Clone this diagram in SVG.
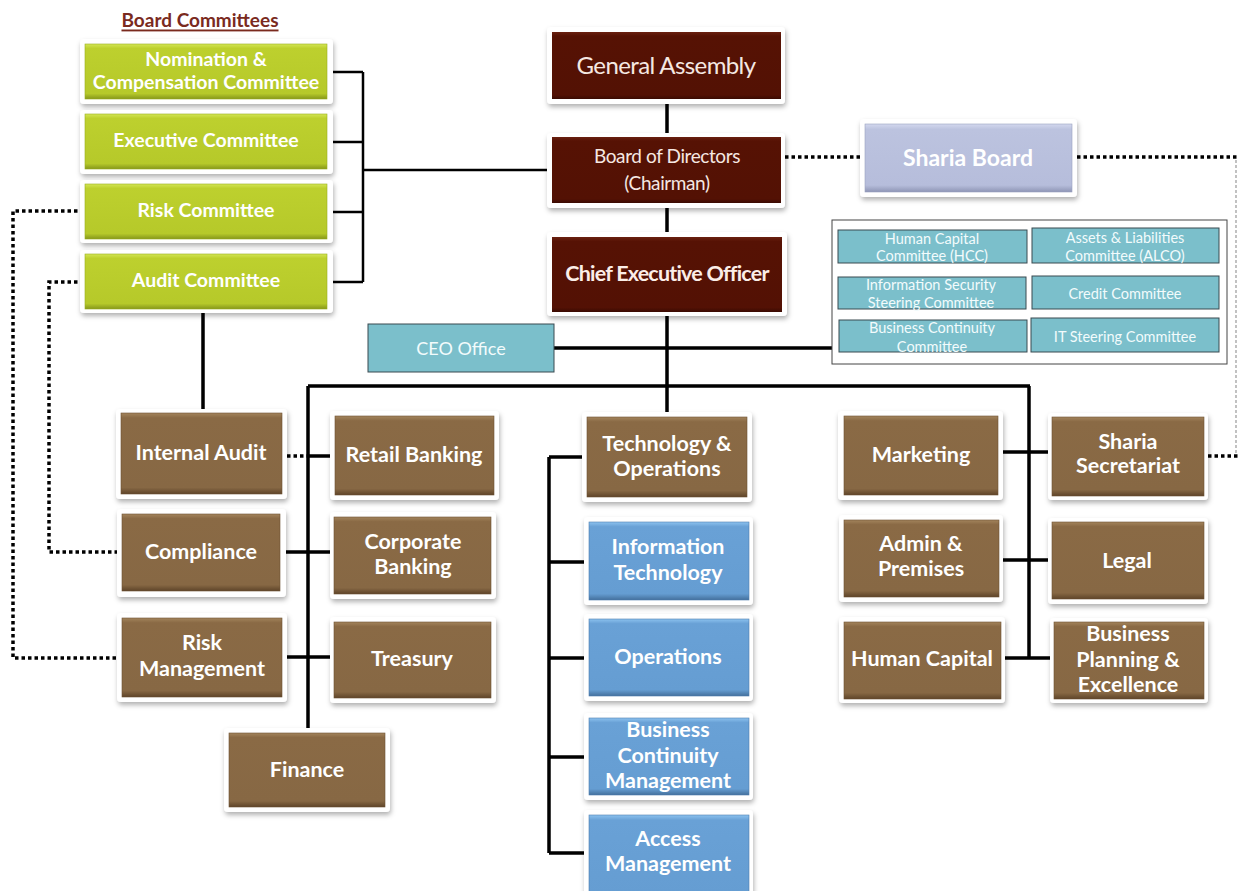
<svg xmlns="http://www.w3.org/2000/svg" width="1239" height="891" viewBox="0 0 1239 891">
<defs>
<filter id="sh" x="-10%" y="-10%" width="125%" height="130%"><feDropShadow dx="1" dy="3" stdDeviation="2.5" flood-color="#000" flood-opacity="0.3"/></filter>
<linearGradient id="gBrown" x1="0" y1="0" x2="0" y2="1"><stop offset="0" stop-color="#a3845c"/><stop offset="0.06" stop-color="#8a6a45"/><stop offset="0.92" stop-color="#876844"/><stop offset="1" stop-color="#5e4429"/></linearGradient>
<linearGradient id="gGreen" x1="0" y1="0" x2="0" y2="1"><stop offset="0" stop-color="#d3e655"/><stop offset="0.08" stop-color="#bdd02e"/><stop offset="0.9" stop-color="#b6c92a"/><stop offset="1" stop-color="#86971a"/></linearGradient>
<linearGradient id="gBlue" x1="0" y1="0" x2="0" y2="1"><stop offset="0" stop-color="#8cc2ef"/><stop offset="0.06" stop-color="#69a1d6"/><stop offset="0.92" stop-color="#659dd2"/><stop offset="1" stop-color="#44709c"/></linearGradient>
<linearGradient id="gMaroon" x1="0" y1="0" x2="0" y2="1"><stop offset="0" stop-color="#6a2010"/><stop offset="0.06" stop-color="#561204"/><stop offset="0.94" stop-color="#531104"/><stop offset="1" stop-color="#3a0a02"/></linearGradient>
<linearGradient id="gLav" x1="0" y1="0" x2="0" y2="1"><stop offset="0" stop-color="#d3d8ee"/><stop offset="0.08" stop-color="#bcc3df"/><stop offset="0.9" stop-color="#b6bddb"/><stop offset="1" stop-color="#8e95b5"/></linearGradient>
<style>
.o{fill:#fff;filter:url(#sh)}
.br{fill:url(#gBrown);stroke:#6d5232;stroke-width:0.6}
.gr{fill:url(#gGreen);stroke:#9aad20;stroke-width:0.6}
.bl{fill:url(#gBlue);stroke:#4d7eae;stroke-width:0.6}
.mr{fill:url(#gMaroon)}
.lv{fill:url(#gLav);stroke:#9aa1bf;stroke-width:0.6}
.tl{fill:#7bbfcb;stroke:#3a4a50;stroke-width:1}
text{font-family:Lato,"Open Sans","Liberation Sans",sans-serif;text-anchor:middle;dominant-baseline:central}
.t{fill:#fff;font-weight:bold;font-size:21.5px}
.tg{fill:#fff;font-weight:bold;font-size:19.5px}
.tm{fill:#f5e8e2;font-size:19px}
.ts{fill:#f2fbfc;font-size:14.5px}
.ln{stroke:#000;stroke-width:3.5;fill:none}
.lt{stroke:#000;stroke-width:2.5;fill:none}
.dt{stroke:#000;stroke-width:3.5;fill:none;stroke-dasharray:3.5 3}
</style>
</defs>
<rect width="1239" height="891" fill="#fff"/>

<g id="connectors">
<path class="lt" d="M327 72H363M327 142H363M327 212H363M327 282H363M363 72V282M363 170H550"/>
<path class="ln" d="M667 104V136M667 207V234M667 316V412M554 348H832M308 386H1030M308 386V730M1029 386V658"/>
<path class="ln" d="M203 313V410M308 456H334M286 552H334M287 657H334"/>
<path class="ln" d="M549 457V853M549 457H587M549 562H589M549 658H589M549 757H589M549 853H589"/>
<path class="ln" d="M1003 452H1052M1003 560H1052M1005 658H1052"/>
<path class="dt" d="M287 456H308"/>
<path class="dt" d="M785 157H860M1077 157H1237M1208 456H1239"/>
<path class="dt" d="M84 211H13V658H118M84 282H49V552H118"/>
<path d="M1236 160V454" stroke="#999" stroke-width="1.2" stroke-dasharray="3 2" fill="none"/>
</g>

<g id="title"><text x="200" y="19" style="font-weight:bold;font-size:19px;fill:#7a2a1e;text-decoration:underline">Board Committees</text></g>

<g id="nomination"><rect class="o" x="80" y="39" width="253" height="65" rx="4"/><rect class="gr" x="85" y="44" width="242" height="55"/><text class="tg" x="206" y="58">Nomination &amp;</text><text class="tg" x="206" y="81">Compensation Committee</text></g>
<g id="executive"><rect class="o" x="80" y="110" width="253" height="64" rx="4"/><rect class="gr" x="85" y="114" width="242" height="55"/><text class="tg" x="206" y="139">Executive Committee</text></g>
<g id="riskcom"><rect class="o" x="80" y="180" width="253" height="63" rx="4"/><rect class="gr" x="85" y="184" width="242" height="55"/><text class="tg" x="206" y="209">Risk Committee</text></g>
<g id="auditcom"><rect class="o" x="80" y="250" width="253" height="63" rx="4"/><rect class="gr" x="85" y="254" width="242" height="55"/><text class="tg" x="206" y="279">Audit Committee</text></g>

<g id="ga"><rect class="o" x="547" y="27" width="238" height="77" rx="4"/><rect class="mr" x="552" y="32" width="229" height="67"/><text class="tm" x="666" y="64" style="font-size:24px;letter-spacing:-0.6px">General Assembly</text></g>
<g id="bod"><rect class="o" x="547" y="133" width="238" height="75" rx="4"/><rect class="mr" x="552" y="137" width="229" height="66"/><text class="tm" x="667" y="155" style="letter-spacing:-0.4px">Board of Directors</text><text class="tm" x="667" y="182" style="letter-spacing:-0.4px">(Chairman)</text></g>
<g id="ceo"><rect class="o" x="547" y="232" width="240" height="84" rx="4"/><rect class="mr" x="552" y="237" width="230" height="75"/><text class="t" x="667" y="273" style="fill:#fbeee8;font-size:21.5px;letter-spacing:-0.8px">Chief Executive Officer</text></g>

<g id="sharia-board"><rect class="o" x="860" y="119" width="217" height="78" rx="4"/><rect class="lv" x="865" y="124" width="207" height="68"/><text class="t" x="968" y="157" style="font-size:23px">Sharia Board</text></g>

<g id="committees">
<rect x="832" y="220" width="395" height="144" fill="#fff" stroke="#444" stroke-width="1"/>
<rect class="tl" x="838" y="230" width="189" height="33"/><text class="ts" x="932" y="238">Human Capital</text><text class="ts" x="932" y="255">Committee (HCC)</text>
<rect class="tl" x="1032" y="228" width="187" height="35"/><text class="ts" x="1125" y="237">Assets &amp; Liabilities</text><text class="ts" x="1125" y="255">Committee (ALCO)</text>
<rect class="tl" x="838" y="277" width="188" height="32"/><text class="ts" x="931" y="284">Information Security</text><text class="ts" x="931" y="302">Steering Committee</text>
<rect class="tl" x="1032" y="276" width="187" height="33"/><text class="ts" x="1125" y="293">Credit Committee</text>
<rect class="tl" x="839" y="320" width="188" height="32"/><text class="ts" x="932" y="327">Business Continuity</text><text class="ts" x="932" y="346">Committee</text>
<rect class="tl" x="1031" y="318" width="188" height="34"/><text class="ts" x="1125" y="336">IT Steering Committee</text>
</g>

<g id="ceo-office"><rect class="tl" x="368" y="324" width="186" height="48"/><text class="ts" x="461" y="348" style="font-size:18px">CEO Office</text></g>

<g id="internal-audit"><rect class="o" x="116" y="409" width="171" height="90" rx="4"/><rect class="br" x="121" y="413" width="161" height="81"/><text class="t" x="201" y="452">Internal Audit</text></g>
<g id="retail"><rect class="o" x="330" y="411" width="169" height="89" rx="4"/><rect class="br" x="335" y="416" width="159" height="79"/><text class="t" x="414" y="454">Retail Banking</text></g>
<g id="compliance"><rect class="o" x="117" y="509" width="169" height="88" rx="4"/><rect class="br" x="122" y="514" width="158" height="77"/><text class="t" x="201" y="551">Compliance</text></g>
<g id="corporate"><rect class="o" x="330" y="512" width="166" height="87" rx="4"/><rect class="br" x="334" y="517" width="157" height="77"/><text class="t" x="413" y="541">Corporate</text><text class="t" x="413" y="566">Banking</text></g>
<g id="risk-mgmt"><rect class="o" x="117" y="613" width="170" height="89" rx="4"/><rect class="br" x="122" y="618" width="160" height="79"/><text class="t" x="202" y="642">Risk</text><text class="t" x="202" y="668">Management</text></g>
<g id="treasury"><rect class="o" x="330" y="617" width="166" height="86" rx="4"/><rect class="br" x="334" y="622" width="157" height="76"/><text class="t" x="412" y="658">Treasury</text></g>
<g id="finance"><rect class="o" x="224" y="728" width="166" height="84" rx="4"/><rect class="br" x="229" y="733" width="156" height="74"/><text class="t" x="307" y="769">Finance</text></g>

<g id="tech-ops"><rect class="o" x="582" y="412" width="170" height="90" rx="4"/><rect class="br" x="587" y="417" width="160" height="80"/><text class="t" x="667" y="443">Technology &amp;</text><text class="t" x="667" y="468">Operations</text></g>
<g id="it"><rect class="o" x="584" y="517" width="169" height="88" rx="4"/><rect class="bl" x="589" y="522" width="160" height="78"/><text class="t" x="668" y="546">Information</text><text class="t" x="668" y="572">Technology</text></g>
<g id="operations"><rect class="o" x="584" y="614" width="169" height="87" rx="4"/><rect class="bl" x="589" y="619" width="160" height="77"/><text class="t" x="668" y="656">Operations</text></g>
<g id="bcm"><rect class="o" x="584" y="713" width="169" height="87" rx="4"/><rect class="bl" x="589" y="718" width="160" height="77"/><text class="t" x="668" y="729">Business</text><text class="t" x="668" y="755">Continuity</text><text class="t" x="668" y="780">Management</text></g>
<g id="access"><rect class="o" x="584" y="810" width="169" height="90" rx="4"/><rect class="bl" x="589" y="815" width="160" height="85"/><text class="t" x="668" y="838">Access</text><text class="t" x="668" y="863">Management</text></g>

<g id="marketing"><rect class="o" x="838" y="411" width="165" height="89" rx="4"/><rect class="br" x="844" y="416" width="154" height="79"/><text class="t" x="921" y="454">Marketing</text></g>
<g id="sharia-sec"><rect class="o" x="1048" y="413" width="160" height="87" rx="4"/><rect class="br" x="1052" y="417" width="152" height="79"/><text class="t" x="1128" y="441">Sharia</text><text class="t" x="1128" y="465">Secretariat</text></g>
<g id="admin"><rect class="o" x="839" y="515" width="164" height="87" rx="4"/><rect class="br" x="844" y="520" width="155" height="77"/><text class="t" x="921" y="543">Admin &amp;</text><text class="t" x="921" y="568">Premises</text></g>
<g id="legal"><rect class="o" x="1048" y="518" width="160" height="86" rx="4"/><rect class="br" x="1052" y="522" width="152" height="77"/><text class="t" x="1127" y="560">Legal</text></g>
<g id="human-capital"><rect class="o" x="839" y="617" width="166" height="86" rx="4"/><rect class="br" x="844" y="622" width="157" height="77"/><text class="t" x="922" y="658">Human Capital</text></g>
<g id="bpe"><rect class="o" x="1050" y="618" width="158" height="85" rx="4"/><rect class="br" x="1054" y="622" width="150" height="77"/><text class="t" x="1128" y="633">Business</text><text class="t" x="1128" y="659">Planning &amp;</text><text class="t" x="1128" y="684">Excellence</text></g>
</svg>
